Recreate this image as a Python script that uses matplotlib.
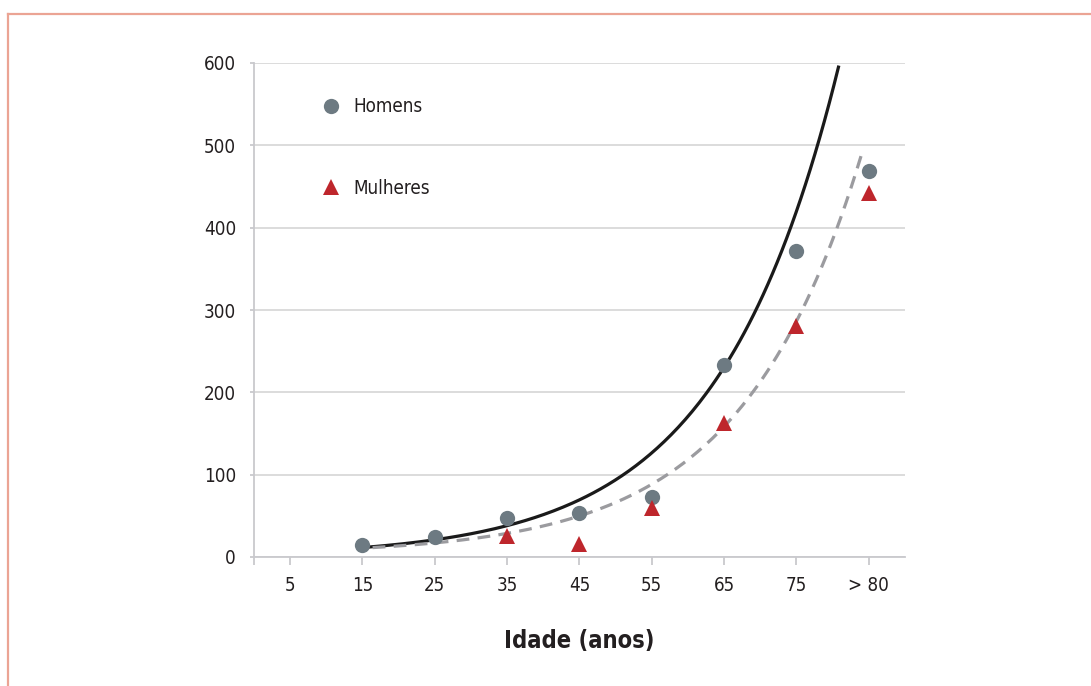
import numpy as np
import matplotlib
matplotlib.use('Agg')
import matplotlib.pyplot as plt
from matplotlib.lines import Line2D

plt.rcParams['font.family'] = ['DejaVu Sans']
plt.rcParams['font.stretch'] = 'condensed'

idades = ['5', '15', '25', '35', '45', '55', '65', '75', '> 80']
homens = [None, 14.6, 24.3, 47.4, 53.4, 72.9, 233, 372, 469]
mulheres = [None, None, None, 25, 16, 59.5, 163, 281, 442]

# linhas de tendencia: y = c + a * exp(b * x)
tend_homens = dict(a=6.3, b=0.6, c=0, x0=1.1, x1=7.58)
tend_mulheres = dict(a=4.25, b=0.6, c=3, x0=1.14, x1=7.92)

txt = '#231F20'
fig = plt.figure(figsize=(10.91, 6.86), dpi=100)
ax = fig.add_axes([254 / 1091, 1 - 557 / 686, 651 / 1091, 494 / 686])

pos = np.arange(len(idades))
xh = [p for p, v in zip(pos, homens) if v is not None]
yh = [v for v in homens if v is not None]
xm = [p for p, v in zip(pos, mulheres) if v is not None]
ym = [v for v in mulheres if v is not None]

t = tend_homens
xs = np.linspace(t['x0'], t['x1'], 200)
ax.plot(xs, t['c'] + t['a'] * np.exp(t['b'] * xs), color='#1A1A1A', lw=2.3, zorder=3)
t = tend_mulheres
xs = np.linspace(t['x0'], t['x1'], 200)
ax.plot(xs, t['c'] + t['a'] * np.exp(t['b'] * xs), color='#9B9B9F', lw=2.3,
        dashes=(4, 2.6), zorder=3)

ax.plot(xh, yh, 'o', color='#6D7A82', ms=11, mew=0, zorder=4, label='Homens')
ax.plot(xm, ym, '^', color='#BE262C', ms=12, mew=0, zorder=4, label='Mulheres')

ax.set_xlim(-0.5, 8.5)
ax.set_ylim(0, 600)
ax.set_xticks(pos)
ax.set_xticklabels(idades)
ax.set_yticks(range(0, 601, 100))
ax.grid(axis='y', color='#D9D9D9', lw=1.3)
ax.set_axisbelow(True)
for s in ['top', 'right']:
    ax.spines[s].set_visible(False)
for s in ['left', 'bottom']:
    ax.spines[s].set_color('#C9C9CD')
    ax.spines[s].set_linewidth(1.3)
ax.tick_params(axis='x', direction='out', length=6, width=1.3, color='#C9C9CD',
               pad=8, labelsize=13.5, labelcolor=txt)
ax.tick_params(axis='y', direction='out', length=3, width=1.3, color='#C9C9CD',
               pad=10, labelsize=13.5, labelcolor=txt)
ax.set_xticks([-0.5], minor=True)
ax.tick_params(axis='x', which='minor', length=6, width=1.3, color='#C9C9CD')

ax.set_xlabel('Idade (anos)', fontsize=17, fontweight='bold', color=txt, labelpad=24)

ax.legend(loc='upper left', bbox_to_anchor=(0.089, 0.95), frameon=False,
          fontsize=13.5, labelspacing=3.35, handlelength=1.0, handletextpad=0.7,
          labelcolor=txt, borderpad=0)

# moldura
fig.add_artist(Line2D([7.5 / 1091, 7.5 / 1091], [0, 1 - 13.5 / 686],
                      color='#EBA494', lw=1.6))
fig.add_artist(Line2D([7.5 / 1091, 1], [1 - 13.5 / 686, 1 - 13.5 / 686],
                      color='#EBA494', lw=1.6))

fig.savefig('out.png', dpi=100)
